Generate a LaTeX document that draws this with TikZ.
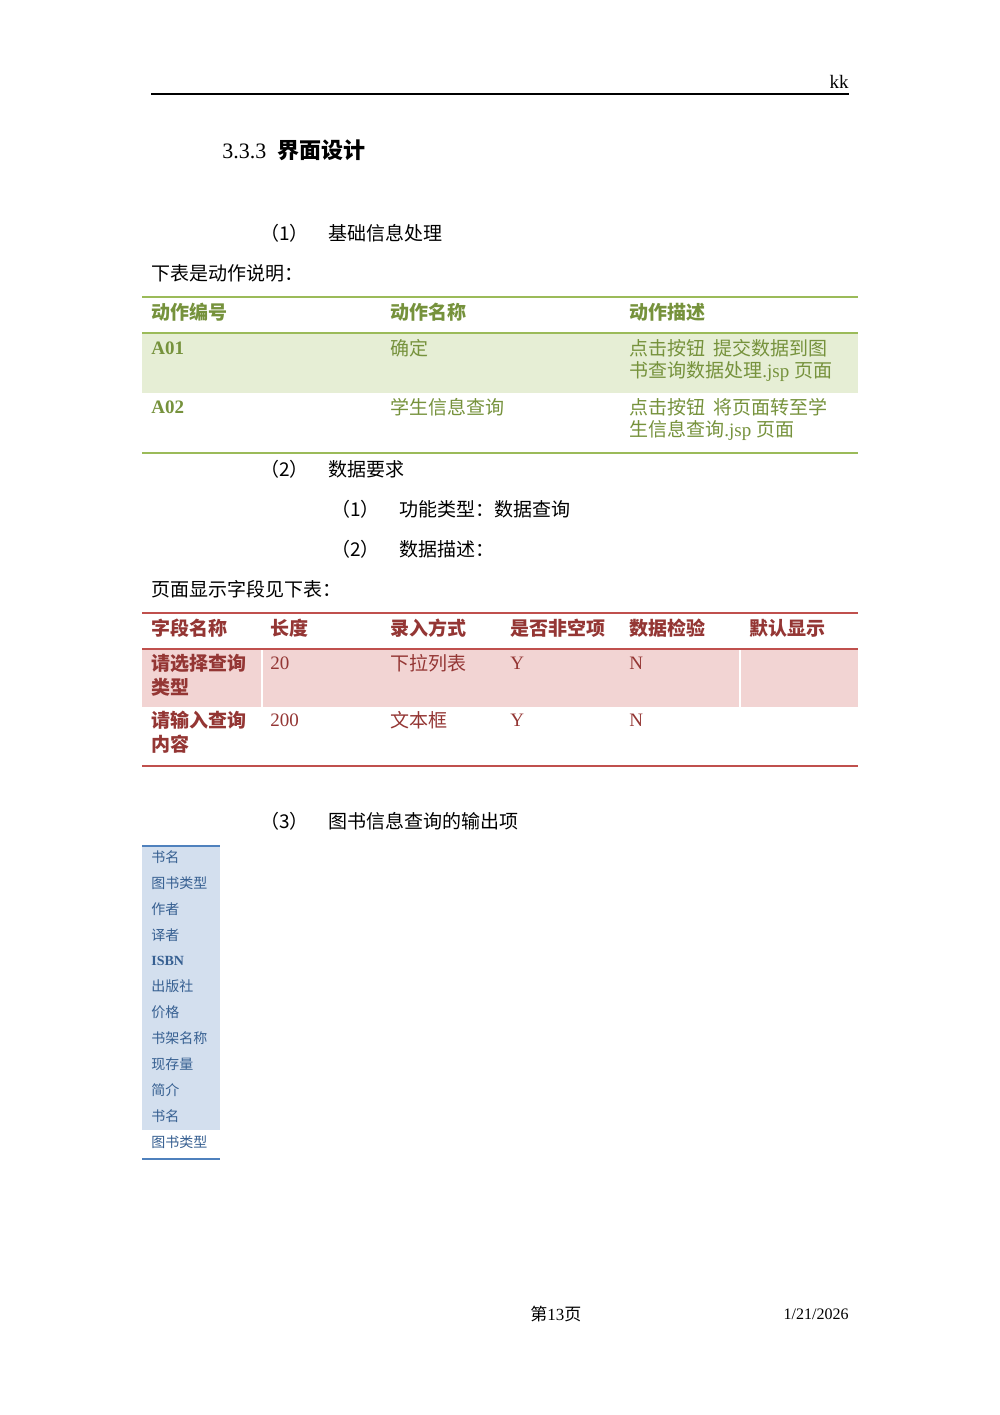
\documentclass[tikz,border=0pt]{standalone}
\usepackage{fontspec}
\setmainfont{Liberation Serif}
\newfontfamily\cjk{Noto Sans CJK SC}
\definecolor{gtx}{HTML}{76923C}
\definecolor{gfill}{HTML}{E6EED5}
\definecolor{gline}{HTML}{9BBB59}
\definecolor{rtx}{HTML}{943634}
\definecolor{rfill}{HTML}{F2D4D3}
\definecolor{rline}{HTML}{C0504D}
\definecolor{btx}{HTML}{365F91}
\definecolor{bfill}{HTML}{D3DFEE}
\definecolor{bline}{HTML}{4F81BD}
\begin{document}
\begin{tikzpicture}[x=0.5pt,y=-0.5pt,
  t/.style={anchor=west,inner sep=0pt,font=\fontsize{9.5}{11}\selectfont},
  tb/.style={t,font=\fontsize{9.5}{11}\selectfont\bfseries},
  ts/.style={anchor=west,inner sep=0pt,font=\fontsize{7}{8}\selectfont,text=btx}]
\useasboundingbox[fill=white] (0,0) rectangle (1000,1415);
\draw[line width=0.6pt] (151,94) -- (849,94);
\node[t,anchor=east] (kk) at (849,82) {kk};
\node[anchor=west,inner sep=0pt,font=\fontsize{11}{13}\selectfont] (h) at (222,150) {3.3.3\ \ {\cjk\bfseries 界面设计}};
\node[t] (n1) at (260,233) {\cjk （1）};
\node[t] (n1b) at (328,233) {\cjk 基础信息处理};
\node[t] (p1) at (151,273) {\cjk 下表是动作说明：};
% table 1
\fill[gfill] (142,334) rectangle (858,393);
\draw[gline,line width=0.8pt] (142,297) -- (858,297);
\draw[gline,line width=1.4pt] (142,333) -- (858,333);
\draw[gline,line width=0.8pt] (142,453) -- (858,453);
\begin{scope}[text=gtx]
\node[tb,text=gtx] (a1) at (151,312) {\cjk\bfseries 动作编号};
\node[tb,text=gtx] (a2) at (390,312) {\cjk\bfseries 动作名称};
\node[tb,text=gtx] (a3) at (629,312) {\cjk\bfseries 动作描述};
\node[tb,text=gtx] (b1) at (151,348) {A01};
\node[t,text=gtx] (b2) at (390,348) {\cjk 确定};
\node[t,text=gtx] (b3) at (629,348) {\cjk 点击按钮\ \ 提交数据到图};
\node[t,text=gtx] (b3b) at (629,372) {{\cjk 书查询数据处理}.jsp {\cjk 页面}};
\node[tb,text=gtx] (c1) at (151,407) {A02};
\node[t,text=gtx] (c2) at (390,407) {\cjk 学生信息查询};
\node[t,text=gtx] (c3) at (629,407) {\cjk 点击按钮\ \ 将页面转至学};
\node[t,text=gtx] (c3b) at (629,430) {{\cjk 生信息查询}.jsp {\cjk 页面}};
\end{scope}
\node[t] (n2) at (260,469) {\cjk （2）};
\node[t] (n2b) at (328,469) {\cjk 数据要求};
\node[t] (m1) at (331,509) {\cjk （1）};
\node[t] (m1b) at (399,509) {\cjk 功能类型：数据查询};
\node[t] (m2) at (331,549) {\cjk （2）};
\node[t] (m2b) at (399,549) {\cjk 数据描述：};
\node[t] (p2) at (151,589) {\cjk 页面显示字段见下表：};
% table 2
\fill[rfill] (142,650) rectangle (858,707);
\draw[white,line width=0.6pt] (262,650) -- (262,707) (740,650) -- (740,707);
\draw[rline,line width=0.8pt] (142,613) -- (858,613);
\draw[rline,line width=1.4pt] (142,649) -- (858,649);
\draw[rline,line width=0.8pt] (142,766) -- (858,766);
\node[tb,text=rtx] (d1) at (151,628) {\cjk\bfseries 字段名称};
\node[tb,text=rtx] (d2) at (270,628) {\cjk\bfseries 长度};
\node[tb,text=rtx] (d3) at (390,628) {\cjk\bfseries 录入方式};
\node[tb,text=rtx] (d4) at (510,628) {\cjk\bfseries 是否非空项};
\node[tb,text=rtx] (d5) at (629,628) {\cjk\bfseries 数据检验};
\node[tb,text=rtx] (d6) at (749,628) {\cjk\bfseries 默认显示};
\node[tb,text=rtx] (e1) at (151,663) {\cjk\bfseries 请选择查询};
\node[tb,text=rtx] (e1b) at (151,687) {\cjk\bfseries 类型};
\node[t,text=rtx] (e2) at (270,663) {20};
\node[t,text=rtx] (e3) at (390,663) {\cjk 下拉列表};
\node[t,text=rtx] (e4) at (510,663) {Y};
\node[t,text=rtx] (e5) at (629,663) {N};
\node[tb,text=rtx] (f1) at (151,720) {\cjk\bfseries 请输入查询};
\node[tb,text=rtx] (f1b) at (151,744) {\cjk\bfseries 内容};
\node[t,text=rtx] (f2) at (270,720) {200};
\node[t,text=rtx] (f3) at (390,720) {\cjk 文本框};
\node[t,text=rtx] (f4) at (510,720) {Y};
\node[t,text=rtx] (f5) at (629,720) {N};
\node[t] (n3) at (260,821) {\cjk （3）};
\node[t] (n3b) at (328,821) {\cjk 图书信息查询的输出项};
% list
\fill[bfill] (142,847) rectangle (220,1130);
\draw[bline,line width=1.2pt] (142,846) -- (220,846);
\draw[bline,line width=1.2pt] (142,1159) -- (220,1159);
\foreach \s [count=\i from 0] in {书名,图书类型,作者,译者,{\rmfamily\bfseries ISBN},出版社,价格,书架名称,现存量,简介,书名,图书类型}
  \node[ts] (l\i) at (151,857+\i*25.9) {\cjk \s};
\node[t,font=\fontsize{8.5}{10}\selectfont] (pg) at (530,1314) {{\cjk 第}13{\cjk 页}};
\node[t,anchor=east,font=\fontsize{8}{10}\selectfont] (dt) at (849,1314) {1/21/2026};
\end{tikzpicture}
\end{document}
